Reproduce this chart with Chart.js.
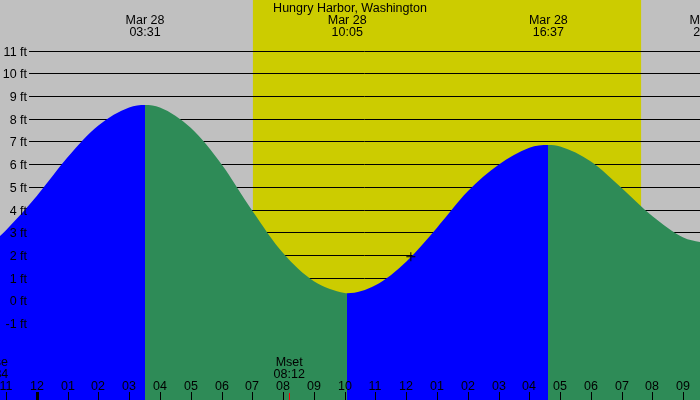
<!DOCTYPE html>
<html>
<head>
<meta charset="utf-8">
<script src="https://cdn.jsdelivr.net/npm/chart.js@4"></script>
<style>
body { margin: 0; background: #c0c0c0; }
canvas { display: block; }
</style>
</head>
<body>
<canvas id="tide-chart" width="700" height="400"></canvas>
<script>
// hours are counted from Mar 28 00:00
const station = 'Hungry Harbor, Washington'
const tideHours = [-1.195, -1, 0, 1, 2, 3, 3.517, 4, 5, 6, 7, 8, 9, 10, 10.083, 11, 12, 13, 14, 15, 16, 16.617, 17, 18, 19, 20, 21, 21.833]
const tideFeet = [2.83, 3.09, 4.6, 6.3, 7.7, 8.49, 8.6, 8.49, 7.6, 6.0, 3.95, 2.08, 0.84, 0.32, 0.31, 0.66, 1.7, 3.2, 4.8, 5.97, 6.72, 6.84, 6.78, 6.12, 4.95, 3.7, 2.77, 2.5]
const extremeHours = [3.517, 10.083, 16.617, 21.833]
const extremeDates = ['Mar 28', 'Mar 28', 'Mar 28', 'Mar 28']
const extremeTimes = ['03:31', '10:05', '16:37', '21:50']
const feetTicks = [-1, 0, 1, 2, 3, 4, 5, 6, 7, 8, 9, 10, 11]
const hourTicks = [-1, 0, 1, 2, 3, 4, 5, 6, 7, 8, 9, 10, 11, 12, 13, 14, 15, 16, 17, 18, 19, 20, 21]
const hourLabels = ['11', '12', '01', '02', '03', '04', '05', '06', '07', '08', '09', '10', '11', '12', '01', '02', '03', '04', '05', '06', '07', '08', '09']
const sunHours = [7.02, 19.63]
const moonHours = [-1.433, 8.2]
const moonNames = ['Mrise', 'Mset']
const moonTimes = ['22:34', '08:12']
const nowMark = [12.15, 1.92]

const gray = '#c0c0c0'
const yellow = '#cccc00'
const blue = '#0000ff'
const green = '#2e8b57'
const font = '12.5px "Liberation Sans", Arial, sans-serif'

// blue while the tide rises, green while it falls, hard edges at highs and lows
function tideFill(c) {
    const chart = c.chart
    const area = chart.chartArea
    if (!area) return blue
    const xs = chart.scales.x
    const g = chart.ctx.createLinearGradient(area.left, 0, area.right, 0)
    const frac = h => Math.min(1, Math.max(0, (xs.getPixelForValue(h) - area.left) / (area.right - area.left)))
    let start = 0
    extremeHours.forEach(h => {
        const i = tideHours.indexOf(h)
        const col = tideFeet[i] > tideFeet[i - 1] ? blue : green
        const f = frac(h)
        g.addColorStop(start, col)
        g.addColorStop(f, col)
        start = f
    })
    const last = tideHours.indexOf(extremeHours[extremeHours.length - 1])
    const tail = tideFeet[last + 1] > tideFeet[last] ? blue : green
    if (start < 1) {
        g.addColorStop(start, tail)
        g.addColorStop(1, tail)
    }
    return g
}

const tidePlugin = {
    id: 'tideDecor',
    beforeDraw(chart) {
        const ctx = chart.ctx
        const xs = chart.scales.x
        const a = chart.chartArea
        ctx.save()
        ctx.fillStyle = gray
        ctx.fillRect(0, 0, chart.width, chart.height)
        const x1 = xs.getPixelForValue(sunHours[0])
        const x2 = xs.getPixelForValue(sunHours[1])
        ctx.fillStyle = yellow
        ctx.fillRect(x1, a.top, x2 - x1, a.bottom - a.top)
        ctx.restore()
    },
    beforeDatasetsDraw(chart) {
        const ctx = chart.ctx
        const ys = chart.scales.y
        ctx.save()
        ctx.strokeStyle = '#000'
        ctx.lineWidth = 1
        feetTicks.forEach(f => {
            const y = Math.round(ys.getPixelForValue(f)) + 0.5
            ctx.beginPath()
            ctx.moveTo(29, y)
            ctx.lineTo(chart.width, y)
            ctx.stroke()
        })
        ctx.restore()
    },
    afterDatasetsDraw(chart) {
        const ctx = chart.ctx
        const xs = chart.scales.x
        const ys = chart.scales.y
        const bottom = chart.chartArea.bottom
        ctx.save()
        ctx.font = font
        ctx.fillStyle = '#000'
        ctx.textBaseline = 'alphabetic'

        // feet labels
        ctx.textAlign = 'right'
        feetTicks.forEach(f => {
            const y = Math.round(ys.getPixelForValue(f))
            ctx.fillText(f + ' ft', 27, y + 4.5)
        })

        // title and high/low times
        ctx.textAlign = 'center'
        ctx.fillText(station, chart.width / 2, 12)
        extremeHours.forEach((h, i) => {
            const x = xs.getPixelForValue(h)
            ctx.fillText(extremeDates[i], x, 24)
            ctx.fillText(extremeTimes[i], x, 36)
        })

        // hour ticks
        hourTicks.forEach((h, i) => {
            const x = Math.round(xs.getPixelForValue(h))
            ctx.fillText(hourLabels[i], x, 390)
            const w = h % 24 === 0 ? 3 : 1
            ctx.fillRect(x - Math.floor(w / 2), bottom - 8, w, 8)
        })

        // moon events
        moonHours.forEach((h, i) => {
            const x = xs.getPixelForValue(h)
            ctx.fillStyle = '#000'
            ctx.fillText(moonNames[i], x, 366)
            ctx.fillText(moonTimes[i], x, 378)
            ctx.fillStyle = '#ff0000'
            ctx.fillRect(Math.round(x), bottom - 7, 1, 7)
        })
        ctx.restore()
    }
}

new Chart(document.querySelector('#tide-chart'), {
    type: 'line',
    data: {
        datasets: [{
            data: [{ x: nowMark[0], y: nowMark[1] }],
            showLine: false,
            pointStyle: 'cross',
            pointRadius: 4.5,
            borderColor: '#000',
            borderWidth: 1,
            order: 0
        }, {
            data: tideHours.map((h, i) => ({ x: h, y: tideFeet[i] })),
            fill: 'start',
            backgroundColor: tideFill,
            borderColor: 'transparent',
            borderWidth: 0,
            pointRadius: 0,
            cubicInterpolationMode: 'monotone',
            order: 1
        }]
    },
    options: {
        responsive: false,
        animation: false,
        layout: { padding: 0, autoPadding: false },
        scales: {
            x: { type: 'linear', min: -1.195, max: 21.543, display: false },
            y: { type: 'linear', min: -4.39, max: 13.23, display: false }
        },
        plugins: {
            legend: { display: false },
            tooltip: { enabled: false }
        }
    },
    plugins: [tidePlugin]
})
</script>
</body>
</html>
